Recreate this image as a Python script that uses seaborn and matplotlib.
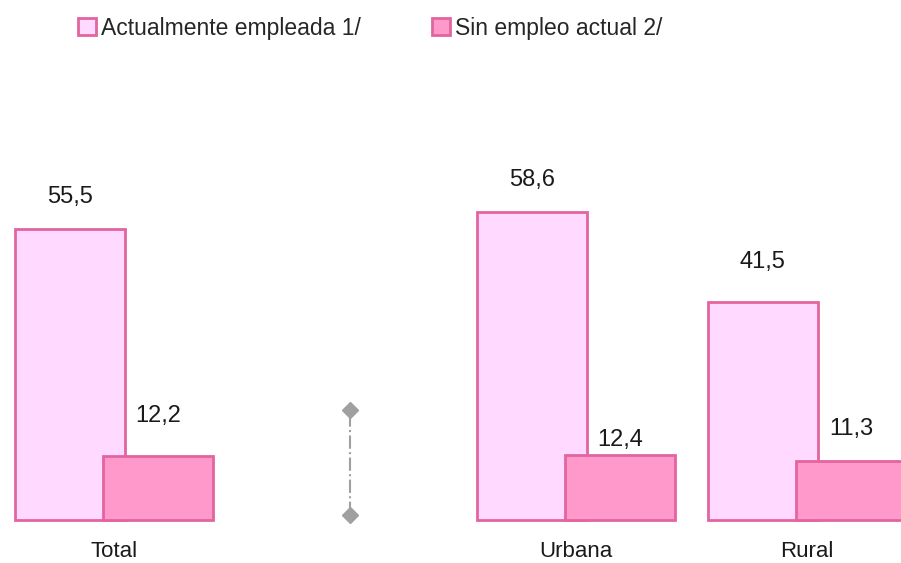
import numpy as np
import pandas as pd
import matplotlib
matplotlib.use("Agg")
import matplotlib.pyplot as plt
from matplotlib.patches import Patch
import seaborn as sns

# datos
categorias = ["Total", "", "Urbana", "Rural"]
series = ["Actualmente empleada 1/", "Sin empleo actual 2/"]
empleada = [55.5, np.nan, 58.6, 41.5]
sin_empleo = [12.2, np.nan, 12.4, 11.3]

# desplazamiento vertical de cada etiqueta (px sobre la barra)
off_empleada = [32, 0, 32, 40]
off_sin_empleo = [40, 0, 15, 32]

colores = ["#FFD9FF", "#FF99CC"]
borde = "#E2659E"

df = pd.DataFrame({
    "categoria": categorias * 2,
    "serie": [series[0]] * 4 + [series[1]] * 4,
    "valor": empleada + sin_empleo,
})

sns.set_style("white")
plt.rcParams["font.family"] = ["Liberation Sans", "DejaVu Sans"]

fig = plt.figure(figsize=(9.01, 5.63), dpi=100)
ax = fig.add_axes([0, 43 / 563, 1, 520 / 563])

sns.barplot(data=df, x="categoria", y="valor", hue="serie", order=categorias,
            hue_order=series, palette=colores, saturation=1, edgecolor=borde,
            linewidth=2, legend=False, ax=ax)

# barras superpuestas: ancho 110 px, separacion 88.5 px (1 unidad = 231 px)
ancho = 110 / 231
desp = 88.5 / 2 / 231
for i, serie in enumerate(series):
    for p in ax.containers[i].patches:
        j = round(p.get_x() + p.get_width() / 2)
        centro = j + (-desp if i == 0 else desp)
        p.set_width(ancho)
        p.set_x(centro - ancho / 2)
        p.set_clip_on(False)

ax.set_xlim(-114 / 231, (901 - 114) / 231)
ax.set_ylim(0, 520 / 5.25)

# etiquetas de valor
for i, (vals, offs) in enumerate([(empleada, off_empleada), (sin_empleo, off_sin_empleo)]):
    for j, v in enumerate(vals):
        if np.isnan(v):
            continue
        x = j + (-desp if i == 0 else desp)
        ax.annotate(f"{v:.1f}".replace(".", ","), (x, v), xytext=(0, offs[j] * 0.72),
                    textcoords="offset points", ha="center", va="center",
                    fontsize=17, color="#1a1a1a")

# separador
ax.plot([1.02, 1.02], [1, 21], color="#a0a0a0", linestyle="-.", linewidth=1.5,
        marker="D", markersize=8, clip_on=False)

ax.set_xlabel("")
ax.set_ylabel("")
ax.set_yticks([])
ax.tick_params(axis="x", length=0, pad=15, labelsize=16, labelcolor="#1a1a1a")
sns.despine(ax=ax, left=True, bottom=True)

handles = [Patch(facecolor=c, edgecolor=borde, linewidth=2) for c in colores]
fig.legend(handles, series, loc="center", bbox_to_anchor=(370 / 901, 1 - 28 / 563),
           ncol=2, frameon=False, fontsize=16.5, handlelength=0.8, handleheight=0.8,
           handletextpad=0.2, columnspacing=3.1)

fig.savefig("out.png", dpi=100)
